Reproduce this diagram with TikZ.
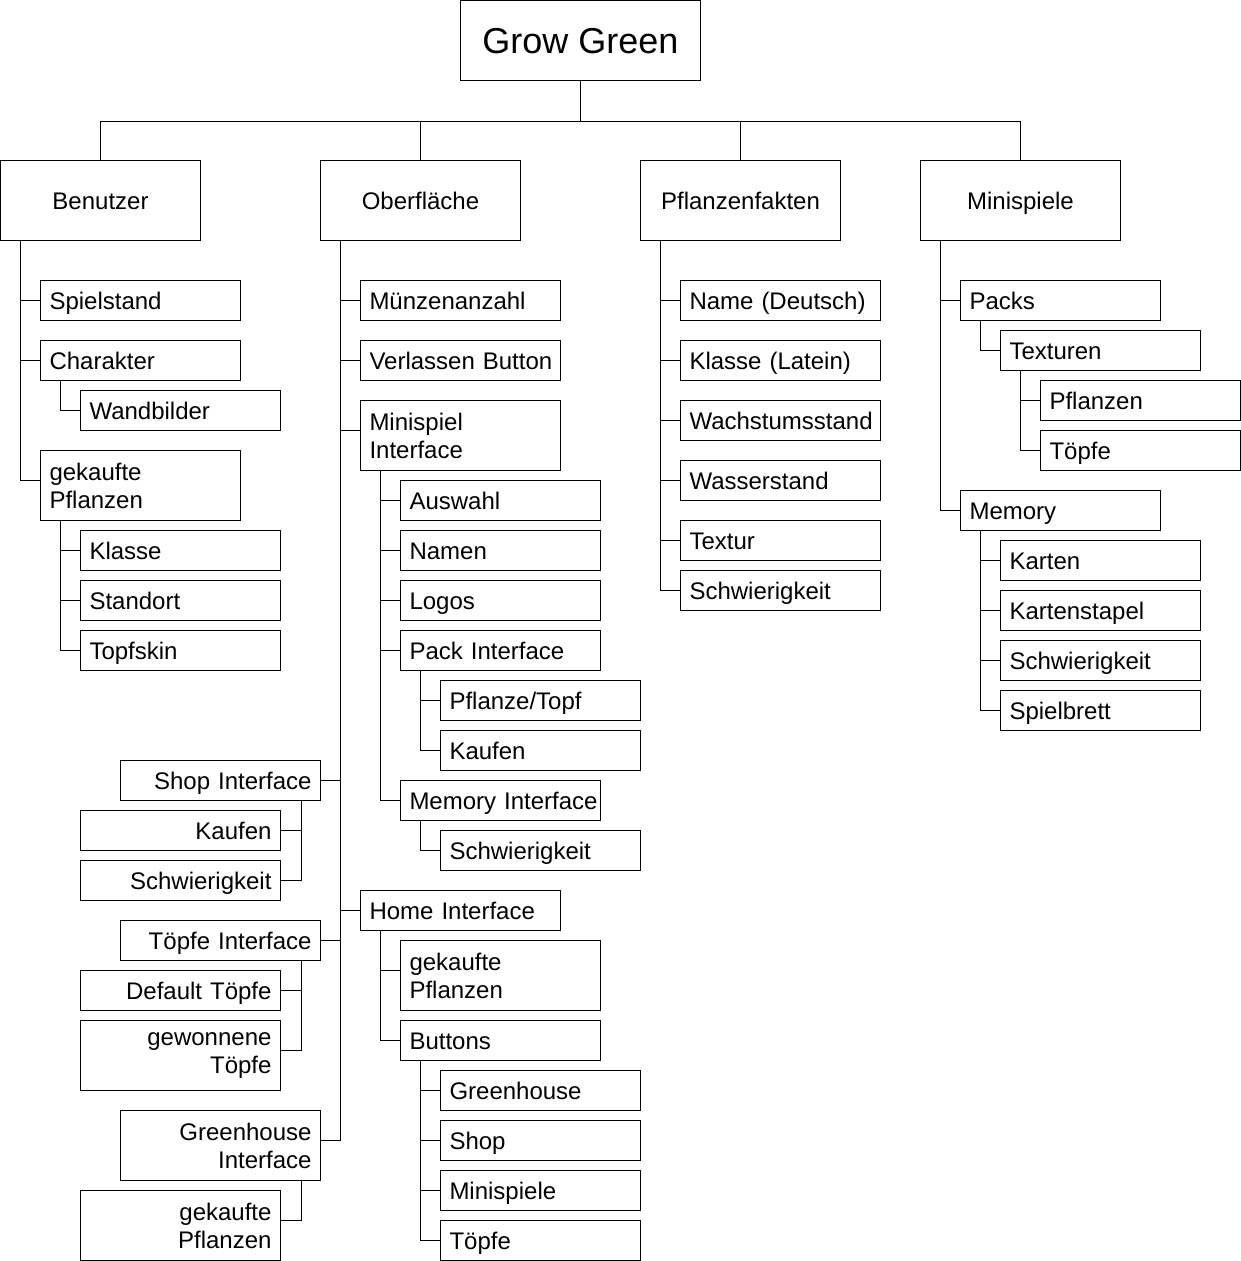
\documentclass[tikz,border=0pt]{standalone}
\usepackage{fontspec}
\setmainfont{Liberation Sans}
\usepackage{tikz}
\hyphenpenalty=10000
\exhyphenpenalty=10000
\tikzset{
  box/.style={draw, anchor=north west, minimum height=30pt, inner xsep=6.75pt, inner ysep=0pt, text width=136.5pt, text height=15pt, text depth=2.1pt, align=left, font=\fontsize{18}{21}\selectfont},
  boxr/.style={box, align=right},
  tall/.style={minimum height=52.5pt, text height=, text depth=},
  head/.style={draw, anchor=north west, minimum width=150pt, minimum height=60pt, inner sep=0pt, text height=15pt, text depth=2.1pt, align=center, font=\fontsize{18}{21}\selectfont},
}
\begin{document}
\begin{tikzpicture}[x=0.75pt,y=0.75pt,yscale=-1,xscale=1,line width=0.75pt]
        \useasboundingbox (0,0) rectangle (1241,1261);
        \draw (460,0) node [head, minimum width=180pt, text height=22pt, text depth=2.7pt, font=\fontsize{27}{32}\selectfont] (grow) {Grow Green};
        \draw (0,160) node [head] (ben) {Benutzer};
        \draw (320,160) node [head] (ober) {Oberfläche};
        \draw (640,160) node [head] (pfl) {Pflanzenfakten};
        \draw (920,160) node [head] (mini) {Minispiele};
        \draw (grow.south) -- ++(0,40) -| (ben.north);
        \draw (grow.south) -- ++(0,40) -| (ober.north);
        \draw (grow.south) -- ++(0,40) -| (pfl.north);
        \draw (grow.south) -- ++(0,40) -| (mini.north);
        % Benutzer
        \draw (40,280) node [box] (spiel) {Spielstand};
        \draw (40,340) node [box] (chara) {Charakter};
        \draw (80,390) node [box] (wand) {Wandbilder};
        \draw (40,450) node [box, tall] (bgek) {gekaufte\\Pflanzen};
        \draw (80,530) node [box] (bkla) {Klasse};
        \draw (80,580) node [box] (bsta) {Standort};
        \draw (80,630) node [box] (btopf) {Topfskin};
        \draw ([xshift=15pt]ben.south west) |- (spiel.west);
        \draw ([xshift=15pt]ben.south west) |- (chara.west);
        \draw ([xshift=15pt]ben.south west) |- ([yshift=22.5pt]bgek.north west);
        \draw ([xshift=15pt]chara.south west) |- (wand.west);
        \draw ([xshift=15pt]bgek.south west) |- (bkla.west);
        \draw ([xshift=15pt]bgek.south west) |- (bsta.west);
        \draw ([xshift=15pt]bgek.south west) |- (btopf.west);
        % Oberflaeche
        \draw (360,280) node [box] (muenz) {Münzenanzahl};
        \draw (360,340) node [box] (verl) {Verlassen~Button};
        \draw (360,400) node [box, tall] (msint) {Minispiel\\Interface};
        \draw (400,480) node [box] (ausw) {Auswahl};
        \draw (400,530) node [box] (namen) {Namen};
        \draw (400,580) node [box] (logos) {Logos};
        \draw (400,630) node [box] (pack) {Pack Interface};
        \draw (440,680) node [box] (pftopf) {Pflanze/Topf};
        \draw (440,730) node [box] (pkauf) {Kaufen};
        \draw (400,780) node [box] (memi) {Memory~Interface};
        \draw (440,830) node [box] (mschw) {Schwierigkeit};
        \draw (120,760) node [boxr] (shop) {Shop Interface};
        \draw (80,810) node [boxr] (skauf) {Kaufen};
        \draw (80,860) node [boxr] (sschw) {Schwierigkeit};
        \draw (120,920) node [boxr] (toepf) {Töpfe Interface};
        \draw (80,970) node [boxr] (tdef) {Default Töpfe};
        \draw (80,1020) node [boxr, tall] (tgew) {gewonnene\\Töpfe};
        \draw (120,1110) node [boxr, tall] (green) {Greenhouse\\Interface};
        \draw (80,1190) node [boxr, tall] (ggek) {gekaufte\\Pflanzen};
        \draw (360,890) node [box] (home) {Home Interface};
        \draw (400,940) node [box, tall] (hgek) {gekaufte\\Pflanzen};
        \draw (400,1020) node [box] (butt) {Buttons};
        \draw (440,1070) node [box] (bgreen) {Greenhouse};
        \draw (440,1120) node [box] (bshop) {Shop};
        \draw (440,1170) node [box] (bmini) {Minispiele};
        \draw (440,1220) node [box] (btoepf) {Töpfe};
        \draw ([xshift=15pt]ober.south west) |- (muenz.west);
        \draw ([xshift=15pt]ober.south west) |- (verl.west);
        \draw ([xshift=15pt]ober.south west) |- ([yshift=22.5pt]msint.north west);
        \draw ([xshift=15pt]ober.south west) |- (shop.east);
        \draw ([xshift=15pt]ober.south west) |- (home.west);
        \draw ([xshift=15pt]ober.south west) |- (toepf.east);
        \draw ([xshift=15pt]ober.south west) |- ([yshift=22.5pt]green.north east);
        \draw ([xshift=15pt]msint.south west) |- (ausw.west);
        \draw ([xshift=15pt]msint.south west) |- (namen.west);
        \draw ([xshift=15pt]msint.south west) |- (logos.west);
        \draw ([xshift=15pt]msint.south west) |- (pack.west);
        \draw ([xshift=15pt]msint.south west) |- (memi.west);
        \draw ([xshift=15pt]pack.south west) |- (pftopf.west);
        \draw ([xshift=15pt]pack.south west) |- (pkauf.west);
        \draw ([xshift=15pt]memi.south west) |- (mschw.west);
        \draw ([xshift=-15pt]shop.south east) |- (skauf.east);
        \draw ([xshift=-15pt]shop.south east) |- (sschw.east);
        \draw ([xshift=-15pt]toepf.south east) |- (tdef.east);
        \draw ([xshift=-15pt]toepf.south east) |- ([yshift=22.5pt]tgew.north east);
        \draw ([xshift=-15pt]green.south east) |- ([yshift=22.5pt]ggek.north east);
        \draw ([xshift=15pt]home.south west) |- ([yshift=22.5pt]hgek.north west);
        \draw ([xshift=15pt]home.south west) |- (butt.west);
        \draw ([xshift=15pt]butt.south west) |- (bgreen.west);
        \draw ([xshift=15pt]butt.south west) |- (bshop.west);
        \draw ([xshift=15pt]butt.south west) |- (bmini.west);
        \draw ([xshift=15pt]butt.south west) |- (btoepf.west);
        % Pflanzenfakten
        \draw (680,280) node [box] (pname) {Name (Deutsch)};
        \draw (680,340) node [box] (pkla) {Klasse (Latein)};
        \draw (680,400) node [box] (pwach) {Wachstumsstand};
        \draw (680,460) node [box] (pwass) {Wasserstand};
        \draw (680,520) node [box] (ptex) {Textur};
        \draw (680,570) node [box] (pschw) {Schwierigkeit};
        \draw ([xshift=15pt]pfl.south west) |- (pname.west);
        \draw ([xshift=15pt]pfl.south west) |- (pkla.west);
        \draw ([xshift=15pt]pfl.south west) |- (pwach.west);
        \draw ([xshift=15pt]pfl.south west) |- (pwass.west);
        \draw ([xshift=15pt]pfl.south west) |- (ptex.west);
        \draw ([xshift=15pt]pfl.south west) |- (pschw.west);
        % Minispiele
        \draw (960,280) node [box] (packs) {Packs};
        \draw (1000,330) node [box] (textu) {Texturen};
        \draw (1040,380) node [box] (tpfl) {Pflanzen};
        \draw (1040,430) node [box] (ttoe) {Töpfe};
        \draw (960,490) node [box] (memo) {Memory};
        \draw (1000,540) node [box] (mkar) {Karten};
        \draw (1000,590) node [box] (mstap) {Kartenstapel};
        \draw (1000,640) node [box] (mschwi) {Schwierigkeit};
        \draw (1000,690) node [box] (mbrett) {Spielbrett};
        \draw ([xshift=15pt]mini.south west) |- (packs.west);
        \draw ([xshift=15pt]mini.south west) |- (memo.west);
        \draw ([xshift=15pt]packs.south west) |- (textu.west);
        \draw ([xshift=15pt]textu.south west) |- (tpfl.west);
        \draw ([xshift=15pt]textu.south west) |- (ttoe.west);
        \draw ([xshift=15pt]memo.south west) |- (mkar.west);
        \draw ([xshift=15pt]memo.south west) |- (mstap.west);
        \draw ([xshift=15pt]memo.south west) |- (mschwi.west);
        \draw ([xshift=15pt]memo.south west) |- (mbrett.west);
    \end{tikzpicture}
\end{document}
